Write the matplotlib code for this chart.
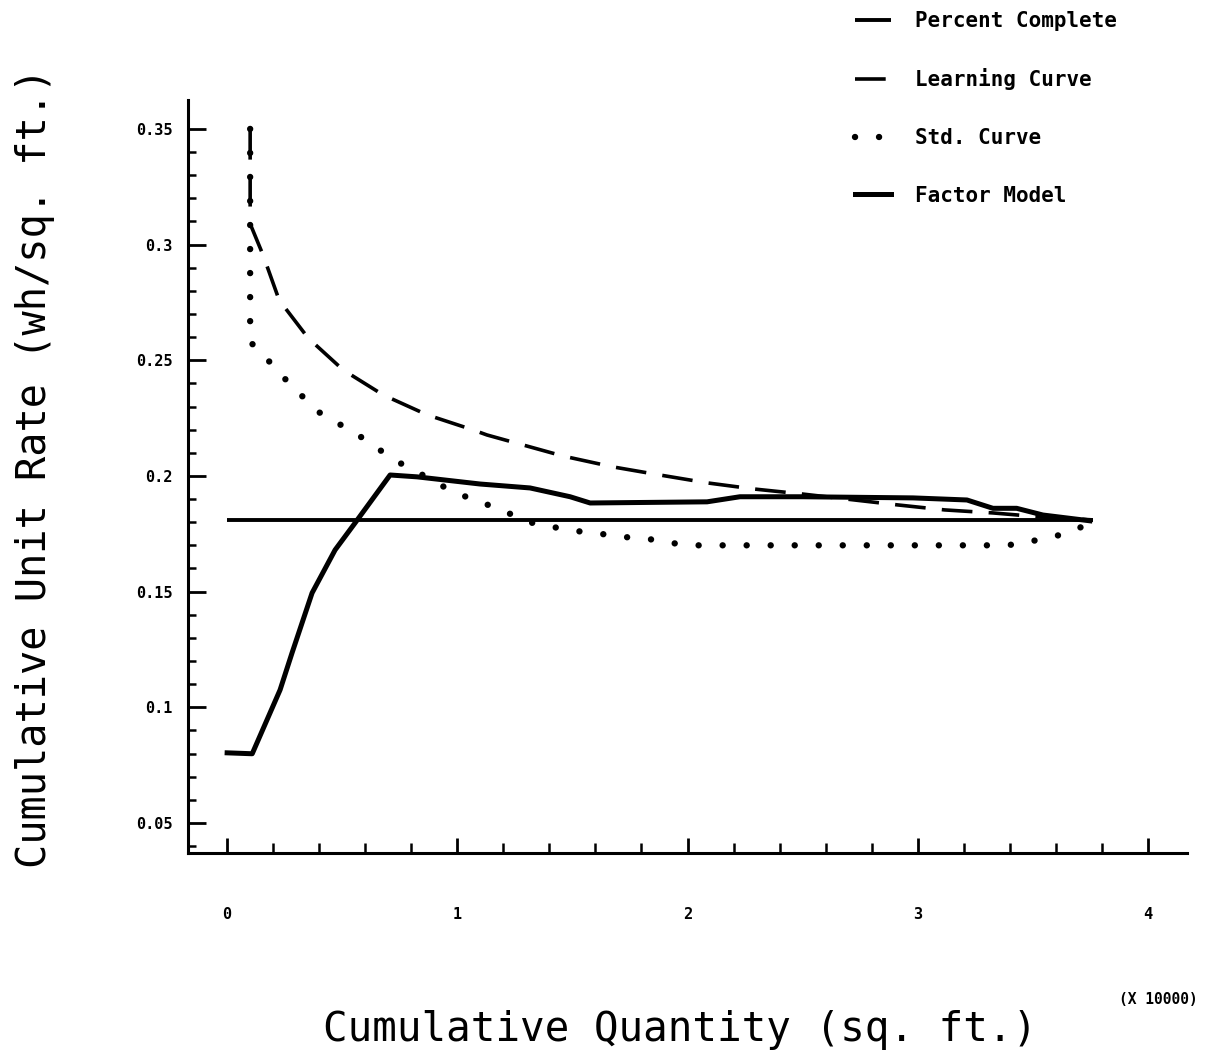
import numpy as np
import matplotlib
matplotlib.use("Agg")
import matplotlib.pyplot as plt
from matplotlib.ticker import FixedLocator, FuncFormatter

# ---- data (x in units of 10000 sq. ft.) ----
pc_x = [0.0, 3.76]
pc_y = [0.181, 0.181]

lc_x = [0.10, 0.10, 0.156, 0.226, 0.352, 0.504, 0.678, 0.869, 1.068, 1.129,
        1.459, 1.676, 1.88, 2.085, 2.284, 2.497, 2.91, 3.118, 3.327, 3.53, 3.76]
lc_y = [0.350, 0.309, 0.2955, 0.276, 0.2596, 0.2458, 0.235, 0.2264, 0.2199, 0.2177,
        0.2086, 0.2039, 0.2004, 0.197, 0.1944, 0.1922, 0.1875, 0.1853, 0.184, 0.1823, 0.181]

sc_x = [0.10, 0.10, 0.178, 0.243, 0.317, 0.391, 0.486, 0.569, 0.656, 0.743,
        0.834, 0.925, 1.016, 1.112, 1.212, 1.307, 1.41, 1.516, 1.62, 1.724,
        1.828, 1.928, 2.028, 2.4, 3.0, 3.39, 3.48, 3.59, 3.69, 3.76]
sc_y = [0.350, 0.258, 0.250, 0.2428, 0.2354, 0.228, 0.2225, 0.2177, 0.2117, 0.206,
        0.2013, 0.1961, 0.1918, 0.1883, 0.1844, 0.1801, 0.178, 0.1762, 0.175, 0.1736,
        0.1728, 0.171, 0.170, 0.170, 0.170, 0.170, 0.1715, 0.1737, 0.1767, 0.181]

fm_x = [0.0, 0.109, 0.23, 0.282, 0.369, 0.469, 0.556, 0.708, 0.825, 1.099,
        1.316, 1.49, 1.577, 2.085, 2.228, 2.50, 2.98, 3.214, 3.327, 3.43, 3.544, 3.748]
fm_y = [0.0803, 0.0799, 0.1075, 0.1235, 0.1494, 0.168, 0.1797, 0.2004, 0.1996, 0.1965,
        0.1948, 0.191, 0.1883, 0.1888, 0.191, 0.191, 0.1905, 0.1896, 0.186, 0.186, 0.1831, 0.1806]

x_major = [0, 1, 2, 3, 4]
y_major = [0.05, 0.1, 0.15, 0.2, 0.25, 0.3, 0.35]
labels = ["Percent Complete", "Learning Curve", "Std. Curve", "Factor Model"]

MONO = "DejaVu Sans Mono"

fig = plt.figure(figsize=(12.10, 10.59), dpi=100)
ax = fig.add_axes([188/1210, 1-853/1059, (1187-188)/1210, (853-100)/1059])

ax.plot(pc_x, pc_y, color="black", lw=2.8, solid_capstyle="butt", label=labels[0])
ax.plot(lc_x, lc_y, color="black", lw=2.6, dashes=(8.5, 4.5), dash_capstyle="butt",
        label=labels[1])
ax.plot(sc_x, sc_y, color="black", lw=4.6, dashes=(0.01, 3.75), dash_capstyle="round",
        label=labels[2])
ax.plot(fm_x, fm_y, color="black", lw=3.6, solid_joinstyle="round", label=labels[3])

ax.set_xlim(-0.17, 4.17)
ax.set_ylim(0.037, 0.3625)

for s in ["top", "right"]:
    ax.spines[s].set_visible(False)
for s in ["left", "bottom"]:
    ax.spines[s].set_linewidth(2.2)

ax.xaxis.set_major_locator(FixedLocator(x_major))
ax.xaxis.set_minor_locator(FixedLocator([i*0.2 for i in range(21)]))
ax.yaxis.set_major_locator(FixedLocator(y_major))
ax.yaxis.set_minor_locator(FixedLocator([0.04 + i*0.01 for i in range(32)]))
ax.xaxis.set_major_formatter(FuncFormatter(lambda v, p: "%g" % v))
ax.yaxis.set_major_formatter(FuncFormatter(lambda v, p: "%g" % v))

ax.tick_params(axis="y", which="major", direction="in", length=13, width=2.0, pad=11)
ax.tick_params(axis="y", which="minor", direction="in", length=6, width=1.8)
ax.tick_params(axis="x", which="major", direction="in", length=11, width=2.0, pad=39)
ax.tick_params(axis="x", which="minor", direction="in", length=7, width=1.8)

for lab in ax.get_xticklabels() + ax.get_yticklabels():
    lab.set_fontfamily(MONO)
    lab.set_fontweight("bold")
    lab.set_fontsize(11)

fig.text(680/1210, 1-1030/1059, "Cumulative Quantity (sq. ft.)", family=MONO,
         fontsize=29.5, ha="center", va="center")
fig.text(35/1210, 1-468/1059, "Cumulative Unit Rate (wh/sq. ft.)", family=MONO,
         fontsize=29, ha="center", va="center", rotation=90)
fig.text(1198/1210, 1-1000/1059, "(X 10000)", family=MONO, fontweight="bold",
         fontsize=10.5, ha="right", va="center")

leg = fig.legend(loc="upper left", bbox_to_anchor=(855/1210, 1-11/1059),
                 frameon=False, borderpad=0, borderaxespad=0,
                 handlelength=1.75, handletextpad=1.15, labelspacing=1.8,
                 prop={"family": MONO, "weight": "bold", "size": 15})

fig.savefig("out.png", dpi=100)
